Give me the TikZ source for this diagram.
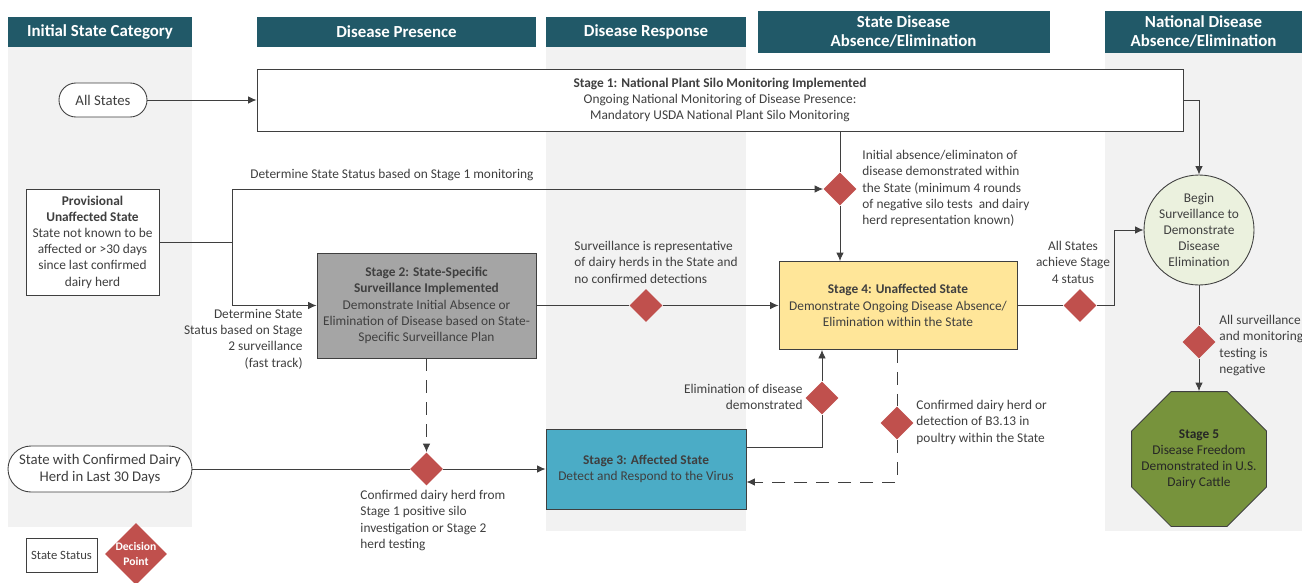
\documentclass[tikz,border=0pt]{standalone}
\usepackage{fontspec}
\setmainfont{Carlito}
\usetikzlibrary{shapes.geometric,arrows.meta}
\definecolor{hdr}{HTML}{215968}
\definecolor{lane}{HTML}{F2F2F2}
\definecolor{dec}{HTML}{C0504D}
\definecolor{txt}{HTML}{3F3F3F}
\definecolor{grayblk}{HTML}{A5A5A5}
\definecolor{yelblk}{HTML}{FFE699}
\definecolor{tealblk}{HTML}{4BACC6}
\definecolor{greencirc}{HTML}{EBF1DE}
\definecolor{olive}{HTML}{77933C}
\newcommand{\bodyfont}{\fontsize{7.6}{9.2}\selectfont}
\newcommand{\bigfont}{\fontsize{8.4}{9.8}\selectfont}
\newcommand{\hdrfont}{\fontsize{9.6}{11.3}\selectfont\bfseries}

\begin{document}
\begin{tikzpicture}[x=0.2mm, y=-0.2mm, color=txt, line width=0.5pt, >={Latex[length=1.7mm,width=1.5mm]},
  every node/.style={font=\bodyfont},
  header/.style={rectangle, fill=hdr, text=white, font=\hdrfont, align=center, inner sep=0pt, minimum height=6mm},
  block/.style={rectangle, draw, align=center, inner sep=1pt},
  decision/.style={diamond, fill=dec, inner sep=0pt, minimum width=6.6mm, minimum height=6.6mm},
  note/.style={align=left, inner sep=0pt},
  dashlink/.style={dash pattern=on 2.6mm off 1.8mm}]
  \useasboundingbox (0,0) rectangle (1302,582);
  \fill[lane] (8,47) rectangle (192,527);
  \fill[lane] (546,47) rectangle (746,531);
  \fill[lane] (1105,53) rectangle (1302,531);

  \node[header, minimum width=36.8mm] (catinit) at (100,31.5) {Initial State Category};
  \node[header, minimum width=55.8mm] (catpres) at (396.5,31.5) {Disease Presence};
  \node[header, minimum width=40mm] (catresp) at (646,31.5) {Disease Response};
  \node[header, minimum width=58.4mm, minimum height=8.4mm] (catstate) at (903.5,31.5) {State Disease\\Absence/Elimination};
  \node[header, minimum width=39.4mm, minimum height=8.4mm] (catnat) at (1203.5,31.5) {National Disease\\Absence/Elimination};

  \node[block, fill=white, font=\bigfont, rounded corners=3.4mm, minimum width=17.6mm, minimum height=6.8mm] (allst) at (103,100) {All States};
  \node[block, fill=white, minimum width=185.2mm, minimum height=12.4mm] (stone) at (720,100) {\textbf{Stage 1: National Plant Silo Monitoring Implemented}\\Ongoing National Monitoring of Disease Presence:\\Mandatory USDA National Plant Silo Monitoring};
  \node[block, fill=white, minimum width=26.6mm, minimum height=21.2mm] (prov) at (92.5,242) {\textbf{Provisional}\\\textbf{Unaffected State}\\State not known to be\\affected or >30 days\\since last confirmed\\dairy herd};
  \node[block, fill=grayblk, minimum width=43.8mm, minimum height=21mm] (sttwo) at (426.5,305.5) {\textbf{Stage 2: State-Specific}\\\textbf{Surveillance Implemented}\\Demonstrate Initial Absence or\\Elimination of Disease based on State-\\Specific Surveillance Plan};
  \node[block, fill=yelblk, minimum width=47.6mm, minimum height=17.6mm] (stfour) at (898,305.5) {\textbf{Stage 4: Unaffected State}\\Demonstrate Ongoing Disease Absence/\\Elimination within the State};
  \node[block, fill=tealblk, minimum width=40mm, minimum height=16mm] (stthree) at (646,469) {\textbf{Stage 3: Affected State}\\Detect and Respond to the Virus};
  \node[block, fill=white, font=\bigfont, rounded corners=4.6mm, minimum width=36.8mm, minimum height=9.2mm] (conf) at (100,469) {State with Confirmed Dairy\\Herd in Last 30 Days};
  \node[circle, draw, fill=greencirc, minimum size=22mm, align=center, inner sep=0pt] (begin) at (1199,230) {Begin\\Surveillance to\\Demonstrate\\Disease\\Elimination};
  \node[regular polygon, regular polygon sides=8, draw, fill=olive, minimum size=29.2mm, inner sep=0pt,
    label={[align=center, text=black!85]center:\textbf{Stage 5}\\Disease Freedom\\Demonstrated in U.S.\\Dairy Cattle}] (stfive) at (1199,459) {};

  \node[decision] (dinit) at (840,189) {};
  \node[decision] (dsurv) at (646,305.5) {};
  \node[decision] (dall) at (1080,305.5) {};
  \node[decision] (dneg) at (1199,342) {};
  \node[decision] (dconf) at (426.5,469) {};
  \node[decision] (delim) at (822,398) {};
  \node[decision] (dpoul) at (897,423) {};

  \node[note, anchor=west] (lblone) at (250,175) {Determine State Status based on Stage 1 monitoring};
  \node[note, align=right, anchor=north east] (lbltwo) at (303,309) {Determine State\\Status based on Stage\\2 surveillance\\(fast track)};
  \node[note, anchor=north west] (lblinit) at (862,150) {Initial absence/eliminaton of\\disease demonstrated within\\the State (minimum 4 rounds\\of negative silo tests\ \ and dairy\\herd representation known)};
  \node[note, anchor=north west] (lblsurv) at (574,241) {Surveillance is representative\\of dairy herds in the State and\\no confirmed detections};
  \node[note, align=center, anchor=north] (lblall) at (1073,241) {All States\\achieve Stage\\4 status};
  \node[note, anchor=north west] (lblneg) at (1219,315) {All surveillance\\and monitoring\\testing is\\negative};
  \node[note, anchor=north west] (lblconf) at (360,490) {Confirmed dairy herd from\\Stage 1 positive silo\\investigation or Stage 2\\herd testing};
  \node[note, align=right, anchor=north east] (lblelim) at (803,384) {Elimination of disease\\demonstrated};
  \node[note, anchor=north west] (lblpoul) at (916,400) {Confirmed dairy herd or\\detection of B3.13 in\\poultry within the State};

  \node[block, fill=white, minimum width=14.2mm, minimum height=6.8mm, font=\fontsize{7.2}{8}\selectfont] (legstat) at (61.5,555) {State Status};
  \node[decision, minimum width=12.4mm, minimum height=12.4mm, label={[text=white, align=center, font=\fontsize{6.6}{8.5}\selectfont\bfseries]center:Decision\\Point}] (legdec) at (136,554) {};

  \coordinate (split) at (232,242);
  \coordinate (upbend) at (1114,305.5);
  \coordinate (elimbend) at (822,447);
  \coordinate (backbend) at (897,482);

  \draw[->] (allst) -- (stone);
  \draw (prov) -- (split);
  \draw[->] (split) |- (dinit);
  \draw[->] (split) |- (sttwo);
  \draw (stone.south -| dinit) -- (dinit);
  \draw[->] (dinit) -- (dinit |- stfour.north);
  \draw (sttwo) -- (dsurv);
  \draw[->] (dsurv) -- (stfour);
  \draw (stfour) -- (dall);
  \draw[->] (dall) -- (upbend) |- (begin);
  \draw[->] (stone) -| (begin);
  \draw (begin) -- (dneg);
  \draw[->] (dneg) -- (stfive);
  \draw (conf) -- (dconf);
  \draw[->] (dconf) -- (stthree);
  \draw[->, dashlink] (sttwo) -- (dconf);
  \draw (stthree.east |- elimbend) -- (elimbend) -- (delim);
  \draw[->] (delim) -- (delim |- stfour.south);
  \draw[dashlink] (stfour.south -| dpoul) -- (dpoul);
  \draw[->, dashlink] (dpoul) -- (backbend) -- (stthree.east |- backbend);
\end{tikzpicture}
\end{document}
